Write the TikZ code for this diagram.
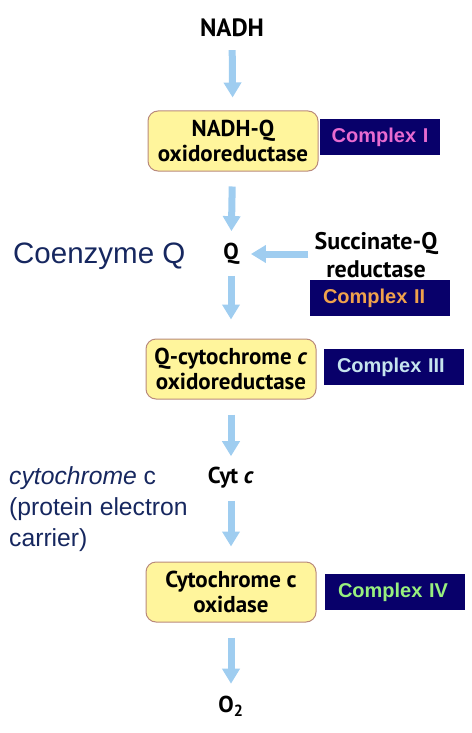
\documentclass[tikz,border=0pt]{standalone}
\usepackage{fontspec}
\usepackage{tikz}
\usetikzlibrary{arrows.meta,positioning}
\setmainfont{Liberation Sans}
\newfontfamily\boxfont{PT Sans}
\definecolor{enzfill}{HTML}{FFF59C}
\definecolor{enzdraw}{HTML}{B98A7C}
\definecolor{cplxnavy}{HTML}{08006A}
\definecolor{flowblue}{HTML}{9FCDF0}
\definecolor{notenavy}{HTML}{16275F}
\definecolor{cplxpink}{HTML}{E86BD0}
\definecolor{cplxorange}{HTML}{F0A24C}
\definecolor{cplxpale}{HTML}{C6E4EE}
\definecolor{cplxgreen}{HTML}{98F07E}
\tikzset{
  enzyme/.style={draw=enzdraw, fill=enzfill, line width=1pt, rounded corners=10pt,
                 minimum width=170pt, minimum height=60pt, align=center, inner sep=0pt,
                 font=\boxfont\fontsize{23}{25}\selectfont\bfseries},
  carrier/.style={inner sep=0pt, font=\boxfont\fontsize{23}{25}\selectfont\bfseries, align=center},
  cplx/.style={fill=cplxnavy, minimum height=36pt, inner xsep=13pt, inner ysep=0pt,
               text width=114pt, align=left, font=\fontsize{20}{24}\selectfont\bfseries},
  note/.style={text=notenavy, inner sep=0pt, anchor=west, align=left},
  flow/.style={draw=flowblue, line width=7pt, -{Triangle[width=17pt,length=15pt]}},
}

\begin{document}
\begin{tikzpicture}[x=1pt, y=-1pt]
    \useasboundingbox (0,0) rectangle (471,733);
    % main chain
    \node[carrier, font=\boxfont\fontsize{25}{28}\selectfont\bfseries] (nadh) at (232, 28) {NADH};
    \node[enzyme] (nqo) at (233, 141) {NADH-Q\\oxidoreductase};
    \node[carrier] (q) at (231, 254) {Q};
    \node[enzyme] (qcr) at (231, 369) {Q-cytochrome \textit{c}\\oxidoreductase};
    \node[carrier] (cytc) at (231, 478) {Cyt \textit{c}};
    \node[enzyme] (cox) at (231, 592) {Cytochrome c\\oxidase};
    \node[carrier] (otwo) at (231, 706) {O\textsubscript{2}};
    \node[carrier, font=\boxfont\fontsize{24}{28}\selectfont\bfseries] (sqr) at (376, 255) {Succinate-Q\\reductase};
    % complex labels
    \node[cplx, text=cplxpink, text width=100pt, inner xsep=10pt, align=center] (c1) at (380, 137) {Complex I};
    \node[cplx, text=cplxorange] (c2) at (380, 298) {Complex II};
    \node[cplx, text=cplxpale] (c3) at (394, 367) {Complex III};
    \node[cplx, text=cplxgreen] (c4) at (395, 592) {Complex IV};
    % side notes
    \node[note, font=\fontsize{29.5}{34}\selectfont] (coq) at (13, 256) {Coenzyme Q};
    \node[note, font=\fontsize{24.7}{31}\selectfont] (cytnote) at (9, 509) {\textit{cytochrome} c\\(protein electron\\carrier)};
    % arrows
    \draw[flow, shorten <=13pt, shorten >=13pt] (nadh) -- (nqo);
    \draw[flow, shorten <=15pt, shorten >=12pt] (nqo) -- (q);
    \draw[flow, shorten <=11pt, shorten >=19pt] (q) -- (qcr);
    \draw[flow, shorten <=15pt, shorten >=11pt] (qcr) -- (cytc);
    \draw[flow, shorten <=12pt, shorten >=15pt] (cytc) -- (cox);
    \draw[flow, shorten <=15pt, shorten >=12pt] (cox) -- (otwo);
    \draw[flow, shorten <=6pt, shorten >=12pt] (q.east -| sqr.west) -- (q.east);
\end{tikzpicture}
\end{document}
